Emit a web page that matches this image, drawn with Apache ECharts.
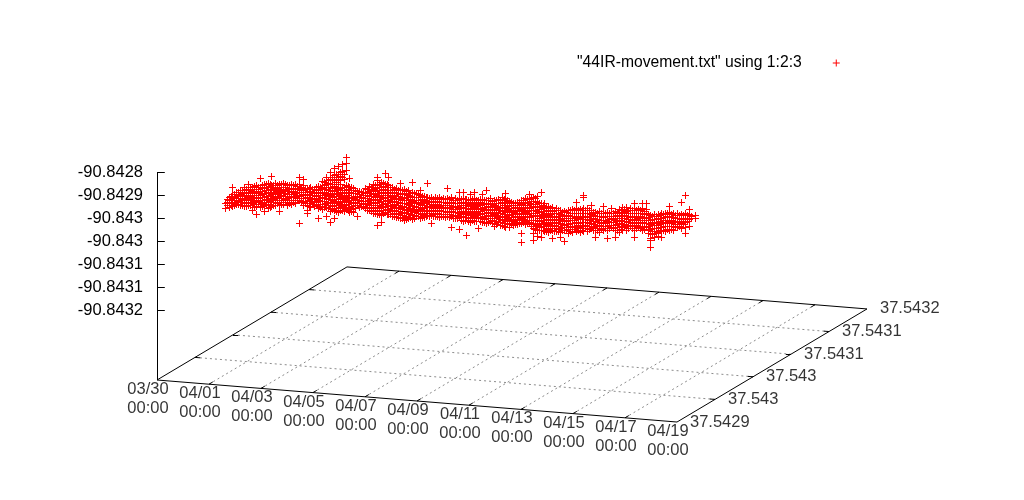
<!DOCTYPE html>
<html>
<head>
<meta charset="utf-8">
<title>44IR movement</title>
<script src="https://cdn.jsdelivr.net/npm/echarts@6/dist/echarts.min.js"></script>
<style>
  html, body { margin: 0; background: #fff; }
  #chart { width: 1024px; height: 500px; }
</style>
</head>
<body>
<div id="chart"></div>
<script>
const seriesName = '"44IR-movement.txt" using 1:2:3'

// altitude ticks, shown with 6 significant digits like gnuplot does
const altTicks = [-90.84284, -90.8429, -90.84296, -90.84302, -90.84308, -90.84314, -90.8432]
const latTicks = [37.5429, 37.54296, 37.54302, 37.54308, 37.54314, 37.5432]
const dayTicks = [0, 2, 4, 6, 8, 10, 12, 14, 16, 18, 20]
const dayLabels = ['03/30', '04/01', '04/03', '04/05', '04/07', '04/09', '04/11', '04/13', '04/15', '04/17', '04/19']

// points: day since 03/30 00:00 as seen on the tilted view,
// and for each day the altitudes, in millionths of a degree below -90.8428
const columnDays = [
  2.6, 2.75, 2.9, 3.05, 3.2, 3.35, 3.5, 3.65, 3.8, 3.95, 4.1, 4.25, 4.4, 4.55, 4.7, 4.85, 5, 5.15, 5.3, 5.45,
  5.6, 5.75, 5.9, 6.05, 6.2, 6.35, 6.5, 6.65, 6.8, 6.95, 7.1, 7.25, 7.4, 7.55, 7.7, 7.85, 8, 8.15, 8.3, 8.45,
  8.6, 8.75, 8.9, 9.05, 9.2, 9.35, 9.5, 9.65, 9.8, 9.95, 10.1, 10.25, 10.4, 10.55, 10.7, 10.85, 11, 11.15, 11.3, 11.45,
  11.6, 11.75, 11.9, 12.05, 12.2, 12.35, 12.5, 12.65, 12.8, 12.95, 13.1, 13.25, 13.4, 13.55, 13.7, 13.85, 14, 14.15, 14.3, 14.45,
  14.6, 14.75, 14.9, 15.05, 15.2, 15.35, 15.5, 15.65, 15.8, 15.95, 16.1, 16.25, 16.4, 16.55, 16.7, 16.85, 17, 17.15, 17.3, 17.45,
  17.6, 17.75, 17.9, 18.05, 18.2, 18.35, 18.5, 18.65, 18.8, 18.95, 19.1, 19.25, 19.4, 19.55, 19.7, 19.85, 20, 20.15, 20.3, 20.45,
  20.69
]
const columnAltOffsets = [
  [121,134], [105,113,122,130], [79,98,108,118,128], [92,103,113,124], [86,97,108,118,126],
  [80,91,102,112,122,128], [70,85,96,106,117,127], [78,90,101,112,122,139], [73,84,95,106,117,128,149], [56,78,90,101,112,123,131],
  [70,83,95,106,117,127,143], [68,80,91,102,113,124,133], [50,74,85,97,108,119,129], [69,80,91,103,114,125], [72,84,96,107,118,126,142],
  [68,79,90,102,113,124], [73,85,97,108,119,125], [70,81,92,103,114,123], [72,84,95,106,117,121], [52,70,81,92,103,114,173],
  [58,74,86,97,108,119,125], [82,93,104,115,127,139,147], [78,89,100,111,122,131], [84,96,107,118,129], [76,88,100,112,124,134,160],
  [64,82,94,105,116,128,136], [53,70,85,97,108,120,131,155], [40,57,72,86,99,111,122,133,143,170], [30,48,62,76,90,103,115,127,138,160], [25,44,58,72,85,98,110,122,133,144],
  [19,37,52,78,92,105,117,129,140], [1,17,34,74,88,101,113,125,136], [55,80,93,106,118,130,145], [82,95,108,120,134,144], [90,103,114,125,155],
  [92,104,116,128], [82,95,108,120,133], [76,90,102,114,126,140], [72,85,98,110,122,135,148], [53,60,75,88,100,113,125,138,150,178],
  [66,80,92,104,116,128,140,152,170], [43,70,84,96,108,120,132,145], [52,75,88,100,113,125,137,150], [80,92,104,116,128,140,155], [82,95,107,119,131,143,158],
  [68,85,97,110,122,134,147,160], [84,96,108,120,132,144,157,165], [88,100,112,124,136,148,160], [66,92,104,116,128,140,152,162], [94,106,118,130,142,154],
  [87,100,112,124,136,148,160], [103,115,127,139,151,158], [68,104,116,128,140,152], [105,117,129,141,153,173], [106,118,130,142,154],
  [105,117,128,139,150,157], [107,119,131,143,155], [82,108,120,132,144,156], [106,118,130,142,154,183], [108,120,132,144,156,160],
  [92,110,122,134,146,158,188], [92,108,120,132,144,156,168], [110,122,134,146,158,204], [98,112,124,136,148,160,170], [92,108,120,132,144,156,168],
  [112,124,136,148,160,185], [97,110,122,134,146,158,170], [87,112,124,136,148,160,172], [108,120,132,144,156,168], [113,125,137,149,161,173,181],
  [110,122,134,146,158,170], [106,118,130,142,154,166,178], [95,108,120,132,144,156,168,183], [115,127,139,151,163,175,184], [121,133,145,157,169,178],
  [118,130,142,154,166,176], [112,124,136,148,160,172,199,222], [108,120,132,144,156,168,175], [97,110,122,134,146,158,170], [104,116,128,140,152,164,176,186,199,217],
  [103,118,130,142,154,166,178,190,206], [92,120,132,144,156,168,180,192,209], [122,134,146,158,170,182,194], [128,140,152,164,176,188,196], [130,142,154,166,178,190,212],
  [134,146,158,170,182,194], [138,150,162,174,186,196,209], [142,154,166,178,190,220], [140,152,164,176,188,199], [136,148,160,172,184,196],
  [118,134,146,158,170,182,194], [136,148,160,172,184,196], [100,106,134,146,158,170,182,194], [134,146,158,170,182,194], [126,138,150,162,174,186],
  [144,156,168,180,192,209], [142,154,166,178,190,196], [129,146,158,170,182,190], [144,156,168,180,191,212], [135,147,159,171,183],
  [142,154,166,178,190,209], [136,148,160,172,184,196], [132,144,156,168,180,191], [131,143,155,167,179,190], [134,146,158,170,182],
  [121,134,146,158,170,182,191,209], [136,148,160,172,184], [121,134,146,158,170,182,191], [121,136,148,160,172,184], [152,164,176,188,200,212,218,235],
  [150,162,174,186,198,210], [149,161,173,185,197,207], [147,159,171,183,195,209], [146,158,170,182,194], [129,144,156,168,180,192],
  [146,158,170,182,190], [147,159,171,183], [118,150,162,174,186], [100,147,159,171,183,199], [136,150,163,180],
  [152,160]
]

// the dense core of the band, between the columns above
const coreDays = [
  2.68, 2.83, 2.98, 3.13, 3.28, 3.43, 3.58, 3.73, 3.88, 4.03, 4.18, 4.33, 4.48, 4.63, 4.78, 4.93, 5.08, 5.23, 5.38, 5.53,
  5.68, 5.83, 5.98, 6.13, 6.28, 6.43, 6.58, 6.73, 6.88, 7.03, 7.18, 7.33, 7.48, 7.63, 7.78, 7.93, 8.08, 8.23, 8.38, 8.53,
  8.68, 8.83, 8.98, 9.13, 9.28, 9.43, 9.58, 9.73, 9.88, 10.03, 10.18, 10.33, 10.48, 10.63, 10.78, 10.93, 11.08, 11.23, 11.38, 11.53,
  11.68, 11.83, 11.98, 12.13, 12.28, 12.43, 12.58, 12.73, 12.88, 13.03, 13.18, 13.33, 13.48, 13.63, 13.78, 13.93, 14.08, 14.23, 14.38, 14.53,
  14.68, 14.83, 14.98, 15.13, 15.28, 15.43, 15.58, 15.73, 15.88, 16.03, 16.18, 16.33, 16.48, 16.63, 16.78, 16.93, 17.08, 17.23, 17.38, 17.53,
  17.68, 17.83, 17.98, 18.13, 18.28, 18.43, 18.58, 18.73, 18.88, 19.03, 19.18, 19.33, 19.48, 19.63, 19.78, 19.93, 20.08, 20.23, 20.38, 20.53
]
const coreAltOffsets = [
  [110,118,126], [102,110,117,125], [97,105,112,120,127], [93,100,108,115,123], [88,95,103,111,119,125],
  [84,91,99,107,114,122,129], [80,87,95,103,110,118,125], [76,84,92,99,107,115,123,130], [78,85,93,101,108,116,124], [74,82,89,97,105,113,120,128],
  [72,80,88,95,103,111,118,126], [70,77,85,93,101,108,116,124,130], [73,81,88,96,104,111,119,127], [74,82,89,97,105,112,120], [70,78,86,93,101,109,117,124],
  [72,80,87,95,103,110,118], [75,83,90,98,106,113,120], [74,82,89,97,105,112,118], [76,84,91,99,107,114], [78,86,93,101,109,116],
  [84,92,99,107,115,122], [82,89,97,105,113,120,128], [85,93,100,108,116,124], [80,87,95,103,111,118,126], [78,85,93,101,108,116,124,131],
  [66,75,84,92,100,107,115,123,130], [60,68,78,87,95,103,111,119,127,135], [52,62,72,81,89,97,105,113,121,129,137], [44,54,66,78,87,95,103,111,119,127,135,141], [40,50,62,72,82,91,99,107,115,123,131,139],
  [44,58,78,86,94,102,110,118,126,134,141], [76,84,92,100,108,116,124,132,140], [80,88,96,104,112,120,128,136,142], [86,94,102,110,118,126,133], [90,98,106,114,122,130],
  [92,99,107,115,123,129], [84,92,100,108,116,124,132,138], [78,86,94,102,110,118,126,134,142], [74,82,90,98,106,114,122,130,138,146], [70,78,86,94,102,110,118,126,134,142,150],
  [68,76,84,92,100,108,116,124,132,140,148], [72,80,88,96,104,112,120,128,136,144,150], [78,86,94,102,110,118,126,134,142,150], [84,92,100,108,116,124,132,140,148,156], [86,94,102,110,118,126,134,142,150,158],
  [88,96,104,112,120,128,136,144,152,160], [90,98,106,114,122,130,138,146,154,162], [94,102,110,118,126,134,142,150,158], [96,104,112,120,128,136,144,152,160], [98,106,114,122,130,138,146,154],
  [102,110,118,126,134,142,150,157], [106,114,122,130,138,146,154], [108,116,124,132,140,148,156], [110,118,126,134,142,150,156], [108,116,124,132,140,148,155],
  [110,118,126,134,142,150,156], [110,118,126,134,142,150,157], [110,118,126,134,142,150,158], [112,120,128,136,144,152,159], [112,120,128,136,144,152,160],
  [110,118,126,134,142,150,158,166], [110,118,126,134,142,150,158,166], [112,120,128,136,144,152,160,168], [110,118,126,134,142,150,158,166], [112,120,128,136,144,152,160,168],
  [110,118,126,134,142,150,158,168], [114,122,130,138,146,154,162,170], [112,120,128,136,144,152,160,170], [116,124,132,140,148,156,164,174], [112,120,128,136,144,152,160,168,176],
  [114,122,130,138,146,154,162,170,178], [110,118,126,134,142,150,158,166,174,181], [112,120,128,136,144,152,160,168,176], [118,126,134,142,150,158,166,174], [122,130,138,146,154,162,170,176],
  [118,126,134,142,150,158,166,174], [114,122,130,138,146,154,162,170], [110,118,126,134,142,150,158,166,172], [108,116,124,132,140,148,156,164,172,180], [108,116,124,132,140,148,156,164,172,180,188],
  [120,128,136,144,152,160,168,176,184,192], [126,134,142,150,158,166,174,182,190], [130,138,146,154,162,170,178,186,194], [134,142,150,158,166,174,182,190], [138,146,154,162,170,178,186,194],
  [140,148,156,164,172,180,188,194], [144,152,160,168,176,184,192], [144,152,160,168,176,184,192], [140,148,156,164,172,180,188,194], [140,148,156,164,172,180,188],
  [138,146,154,162,170,178,186,192], [138,146,154,162,170,178,186,192], [138,146,154,162,170,178,186], [140,148,156,164,172,180,188], [144,152,160,168,176,184,190],
  [146,154,162,170,178,186,192], [148,156,164,172,180,188], [148,156,164,172,180,186], [146,154,162,170,178,186], [146,154,162,170,178,186],
  [144,152,160,168,176,184,190], [140,148,156,164,172,180,188], [136,144,152,160,168,176,184], [138,146,154,162,170,178,186], [140,148,156,164,172,180,186],
  [138,146,154,162,170,178,186], [140,148,156,164,172,180,186], [142,150,158,166,174,182,188], [150,158,166,174,182,190,200], [154,162,170,178,186,194,202],
  [154,162,170,178,186,194,200], [152,160,168,176,184,192], [150,158,166,174,182,190], [148,156,164,172,180,188], [150,158,166,174,182,188],
  [152,160,168,176,184], [152,160,168,176,182], [152,160,168,176], [152,160,168], [154,160]
]

const altBase = -90.8428
const toAlt = off => altBase - off * 1e-6

const points = []
columnDays.forEach((day, i) => {
  columnAltOffsets[i].forEach(off => points.push([day, toAlt(off)]))
})
coreDays.forEach((day, i) => {
  coreAltOffsets[i].forEach(off => points.push([day, toAlt(off)]))
})

// the floor of the 3D view as it lands on the day/altitude plane
const floorAltOffset = 582.6
const dayPerLatStep = 1.4615
const altPerLatStep = 59
const altPerDay = 5.48

const floorCoord = (day, latStep) => [
  day + latStep * dayPerLatStep,
  toAlt(floorAltOffset + altPerDay * day - altPerLatStep * latStep)
]

const lastDay = dayTicks[dayTicks.length - 1]
const lastLat = latTicks.length - 1

const gridSegments = []
const frameSegments = [
  { coords: [floorCoord(0, 0), floorCoord(lastDay, 0)] },
  { coords: [floorCoord(lastDay, 0), floorCoord(lastDay, lastLat)] },
  { coords: [floorCoord(lastDay, lastLat), floorCoord(0, lastLat)] },
  { coords: [floorCoord(0, lastLat), floorCoord(0, 0)] },
  { coords: [floorCoord(0, 0), [0, altTicks[0]]] }
]
altTicks.forEach(alt => {
  frameSegments.push({ coords: [[0, alt], [0.3, alt]] })
})
dayTicks.forEach(day => {
  if (day > 0 && day < lastDay) {
    gridSegments.push({ coords: [floorCoord(day, 0), floorCoord(day, lastLat)] })
    frameSegments.push({ coords: [floorCoord(day, 0), floorCoord(day, 0.1)] })
    frameSegments.push({ coords: [floorCoord(day, lastLat), floorCoord(day, lastLat - 0.1)] })
  }
})
latTicks.forEach((lat, i) => {
  if (i > 0 && i < lastLat) {
    gridSegments.push({ coords: [floorCoord(0, i), floorCoord(lastDay, i)] })
    frameSegments.push({ coords: [floorCoord(0, i), floorCoord(0.2, i)] })
    frameSegments.push({ coords: [floorCoord(lastDay, i), floorCoord(lastDay - 0.2, i)] })
  }
})

const textFont = { fontFamily: '"Liberation Sans", Arial, sans-serif', fontSize: 16.5, color: '#000' }

const chart = echarts.init(document.getElementById('chart'))

chart.setOption({
  animation: false,
  backgroundColor: '#fff',
  grid: { left: 157, top: 150, width: 780, height: 280 },
  legend: {
    left: 577,
    top: 55,
    padding: 0,
    align: 'right',
    itemWidth: 7,
    itemHeight: 7,
    icon: 'path://M3 0h1v3h3v1h-3v3h-1v-3h-3v-1h3z',
    itemStyle: { color: '#ff0000' },
    textStyle: { ...textFont, fontSize: 15.7, padding: [0, 26, 0, 0] },
    selectedMode: false,
    data: [seriesName]
  },
  xAxis: { type: 'value', min: 0, max: 30, show: false },
  yAxis: {
    type: 'value',
    min: -90.843513,
    max: -90.8427826,
    axisLine: { show: false },
    splitLine: { show: false },
    axisTick: { show: false },
    axisLabel: {
      ...textFont,
      margin: 14,
      padding: [0, 0, 2, 0],
      customValues: altTicks,
      formatter: v => String(Number(v.toPrecision(6)))
    }
  },
  series: [
    {
      type: 'lines',
      coordinateSystem: 'cartesian2d',
      silent: true,
      lineStyle: { color: '#8c8c8c', width: 1, type: [2, 3], opacity: 1 },
      data: gridSegments
    },
    {
      type: 'lines',
      coordinateSystem: 'cartesian2d',
      silent: true,
      lineStyle: { color: '#000', width: 1, opacity: 1 },
      data: frameSegments
    },
    {
      // date labels under the front edge
      type: 'scatter',
      silent: true,
      symbolSize: 0,
      label: {
        show: true,
        ...textFont,
        position: 'bottom',
        distance: 0,
        offset: [-9, 0],
        lineHeight: 19,
        formatter: p => dayLabels[p.dataIndex] + '\n00:00'
      },
      data: dayTicks.map(day => floorCoord(day, 0))
    },
    {
      // latitude labels next to the right edge
      type: 'scatter',
      silent: true,
      symbolSize: 0,
      label: {
        show: true,
        ...textFont,
        position: 'right',
        distance: 13,
        formatter: p => String(Number(latTicks[p.dataIndex].toPrecision(6)))
      },
      data: latTicks.map((lat, i) => floorCoord(lastDay, i))
    },
    {
      name: seriesName,
      type: 'custom',
      silent: true,
      encode: { x: 0, y: 1 },
      itemStyle: { color: '#ff0000' },
      renderItem: (params, api) => {
        const c = api.coord([api.value(0), api.value(1)])
        const x = Math.round(c[0])
        const y = Math.round(c[1])
        return {
          type: 'group',
          children: [
            { type: 'rect', shape: { x: x - 3, y: y, width: 7, height: 1 }, style: { fill: '#ff0000' } },
            { type: 'rect', shape: { x: x, y: y - 3, width: 1, height: 7 }, style: { fill: '#ff0000' } }
          ]
        }
      },
      data: points
    }
  ]
})
</script>
</body>
</html>
